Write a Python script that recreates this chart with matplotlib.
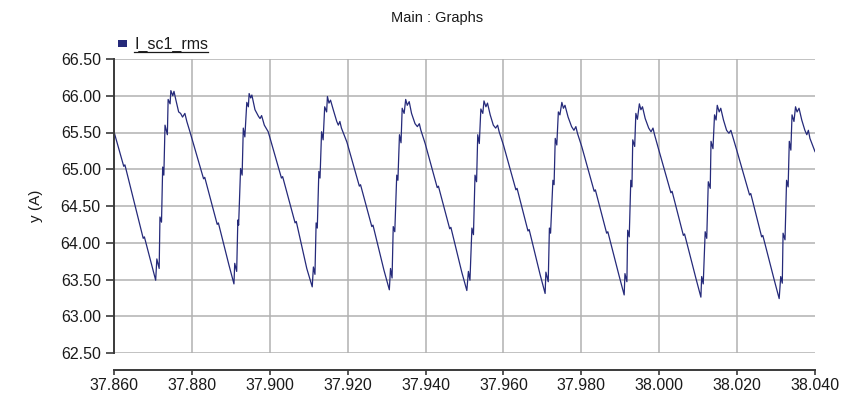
import matplotlib
matplotlib.use('Agg')
import matplotlib.pyplot as plt
import matplotlib.ticker as ticker
from matplotlib.lines import Line2D
from matplotlib.patches import Rectangle

# I_sc1_rms trace (time in s, current in A)
time_s = [
    37.8600, 37.8625, 37.8628, 37.8658, 37.8675, 37.8678, 37.8700, 37.8707,
    37.8710, 37.8716, 37.8718, 37.8722, 37.8725, 37.8728, 37.8731, 37.8737, 37.8739, 37.8744,
    37.8746, 37.8751, 37.8754, 37.8759, 37.8766, 37.8771, 37.8776, 37.8782, 37.8787, 37.8795,
    37.8830, 37.8833, 37.8865, 37.8868, 37.8895, 37.8908,
    37.8910, 37.8915, 37.8918, 37.8920, 37.8925, 37.8929, 37.8932, 37.8936, 37.8941, 37.8945,
    37.8947, 37.8951, 37.8954, 37.8962, 37.8971, 37.8975, 37.8979, 37.8986, 37.8996,
    37.9030, 37.9033, 37.9065, 37.9068, 37.9095, 37.9109,
    37.9112, 37.9116, 37.9119, 37.9122, 37.9126, 37.9129, 37.9133, 37.9137, 37.9141, 37.9146,
    37.9148, 37.9152, 37.9156, 37.9163, 37.9172, 37.9176, 37.9180, 37.9184, 37.9198,
    37.9230, 37.9233, 37.9262, 37.9265, 37.9293, 37.9307,
    37.9310, 37.9314, 37.9317, 37.9321, 37.9326, 37.9329, 37.9333, 37.9337, 37.9340, 37.9345,
    37.9349, 37.9353, 37.9358, 37.9364, 37.9373, 37.9379, 37.9384, 37.9388, 37.9399,
    37.9430, 37.9433, 37.9462, 37.9465, 37.9493, 37.9506,
    37.9510, 37.9514, 37.9519, 37.9523, 37.9527, 37.9531, 37.9534, 37.9538, 37.9542, 37.9547,
    37.9550, 37.9555, 37.9559, 37.9566, 37.9574, 37.9580, 37.9585, 37.9589, 37.9600,
    37.9632, 37.9635, 37.9663, 37.9666, 37.9694, 37.9707,
    37.9709, 37.9715, 37.9718, 37.9721, 37.9727, 37.9730, 37.9733, 37.9737, 37.9741, 37.9745,
    37.9750, 37.9754, 37.9758, 37.9766, 37.9775, 37.9781, 37.9786, 37.9790, 37.9801,
    37.9833, 37.9836, 37.9865, 37.9868, 37.9897, 37.9910,
    37.9912, 37.9917, 37.9919, 37.9923, 37.9927, 37.9930, 37.9932, 37.9937, 37.9940, 37.9944,
    37.9949, 37.9953, 37.9957, 37.9964, 37.9973, 37.9979, 37.9984, 37.9988, 37.9998,
    38.0030, 38.0033, 38.0062, 38.0065, 38.0094, 38.0107,
    38.0109, 38.0113, 38.0118, 38.0122, 38.0126, 38.0131, 38.0133, 38.0138, 38.0142, 38.0146,
    38.0149, 38.0154, 38.0158, 38.0165, 38.0173, 38.0179, 38.0184, 38.0189, 38.0199,
    38.0232, 38.0235, 38.0263, 38.0266, 38.0295, 38.0308,
    38.0312, 38.0316, 38.0318, 38.0323, 38.0327, 38.0331, 38.0334, 38.0338, 38.0341, 38.0346,
    38.0350, 38.0354, 38.0359, 38.0366, 38.0374, 38.0379, 38.0383, 38.0387, 38.0400,
]
i_sc1_rms = [
    65.51, 65.04, 65.06, 64.42, 64.06, 64.08, 63.63, 63.49,
    63.78, 63.65, 64.35, 64.28, 65.03, 64.92, 65.60, 65.47, 65.95, 65.89,
    66.07, 66.00, 66.06, 65.94, 65.78, 65.76, 65.71, 65.76, 65.65, 65.51,
    64.87, 64.89, 64.25, 64.27, 63.70, 63.44,
    63.72, 63.61, 64.31, 64.24, 65.01, 64.92, 65.56, 65.44, 65.91, 65.85,
    66.03, 65.97, 66.01, 65.81, 65.72, 65.69, 65.73, 65.60, 65.51,
    64.88, 64.90, 64.27, 64.29, 63.65, 63.40,
    63.67, 63.57, 64.27, 64.20, 64.97, 64.88, 65.51, 65.40, 65.85, 65.78,
    65.99, 65.90, 65.94, 65.81, 65.65, 65.60, 65.65, 65.56, 65.37,
    64.77, 64.79, 64.22, 64.24, 63.63, 63.36,
    63.65, 63.52, 64.22, 64.15, 64.92, 64.85, 65.47, 65.36, 65.83, 65.76,
    65.95, 65.87, 65.92, 65.76, 65.62, 65.58, 65.62, 65.53, 65.35,
    64.75, 64.77, 64.19, 64.21, 63.60, 63.35,
    63.61, 63.49, 64.20, 64.11, 64.92, 64.83, 65.47, 65.35, 65.82, 65.76,
    65.93, 65.85, 65.90, 65.74, 65.60, 65.56, 65.60, 65.51, 65.33,
    64.72, 64.74, 64.16, 64.18, 63.57, 63.31,
    63.60, 63.47, 64.20, 64.13, 64.85, 64.79, 65.42, 65.33, 65.78, 65.74,
    65.91, 65.83, 65.87, 65.71, 65.58, 65.53, 65.58, 65.49, 65.31,
    64.70, 64.72, 64.13, 64.15, 63.55, 63.29,
    63.58, 63.47, 64.17, 64.08, 64.85, 64.76, 65.40, 65.31, 65.76, 65.68,
    65.89, 65.81, 65.85, 65.69, 65.56, 65.51, 65.56, 65.47, 65.28,
    64.68, 64.70, 64.10, 64.12, 63.52, 63.26,
    63.54, 63.44, 64.15, 64.06, 64.83, 64.74, 65.38, 65.28, 65.74, 65.67,
    65.87, 65.78, 65.83, 65.67, 65.53, 65.49, 65.53, 65.44, 65.26,
    64.65, 64.67, 64.08, 64.10, 63.50, 63.24,
    63.54, 63.45, 64.13, 64.04, 64.85, 64.76, 65.38, 65.26, 65.74, 65.65,
    65.85, 65.78, 65.83, 65.67, 65.53, 65.47, 65.53, 65.42, 65.24,
]

x_ticks = [37.86, 37.88, 37.90, 37.92, 37.94, 37.96, 37.98, 38.00, 38.02, 38.04]
y_ticks = [62.5, 63.0, 63.5, 64.0, 64.5, 65.0, 65.5, 66.0, 66.5]
series_name = 'I_sc1_rms'

line_col = '#252a7a'
grid_col = '#b2b2b2'
spine_col = '#3a3a3a'

plt.rcParams['font.family'] = ['Liberation Sans', 'DejaVu Sans']

W, H = 841, 400
fig = plt.figure(figsize=(W / 100, H / 100), dpi=100)
ax = fig.add_axes([114 / W, 1 - 353 / H, (815 - 114) / W, (353 - 59) / H])

ax.plot(time_s, i_sc1_rms, color=line_col, lw=0.9, zorder=3)

ax.set_xlim(37.86, 38.04)
ax.set_ylim(62.5, 66.5)
ax.set_xticks(x_ticks)
ax.set_yticks(y_ticks)
ax.xaxis.set_major_formatter(ticker.FormatStrFormatter('%.3f'))
ax.yaxis.set_major_formatter(ticker.FormatStrFormatter('%.2f'))

# grid, no vertical line at the right edge
for y in y_ticks:
    ax.axhline(y, color=grid_col, lw=1.1, zorder=1)
for x in x_ticks[1:-1]:
    ax.axvline(x, color=grid_col, lw=1.1, zorder=1)

for s in ['top', 'right']:
    ax.spines[s].set_visible(False)
ax.spines['left'].set_color(spine_col)
ax.spines['left'].set_linewidth(1.4)
ax.spines['bottom'].set_color(spine_col)
ax.spines['bottom'].set_linewidth(1.4)
ax.spines['bottom'].set_position(('outward', 12.2))
ax.spines['left'].set_zorder(4)

ax.tick_params(axis='y', length=5.5, width=1.2, color=spine_col, pad=4, labelsize=11.5, labelcolor='#1a1a1a')
ax.tick_params(axis='x', length=3.8, width=1.2, color=spine_col, pad=2, labelsize=11.5, labelcolor='#1a1a1a')

fig.text(437 / W, 1 - 18 / H, 'Main : Graphs', ha='center', va='center', fontsize=10.5, color='#1a1a1a')
fig.text(36 / W, 1 - 206 / H, 'y (A)', ha='center', va='center', rotation=90, fontsize=11, color='#1a1a1a')

# legend entry: small square + underlined name
fig.patches.append(Rectangle((118 / W, 1 - 47 / H), 9 / W, 7 / H, transform=fig.transFigure,
                             facecolor=line_col, edgecolor='none'))
lbl = fig.text(134 / W, 1 - 49 / H, series_name, ha='left', va='baseline', fontsize=11.5, color='#1a1a1a')
fig.canvas.draw()
bb = lbl.get_window_extent(fig.canvas.get_renderer())
fig.lines.append(Line2D([bb.x0 / W, bb.x1 / W], [1 - 52 / H, 1 - 52 / H], transform=fig.transFigure,
                        color='#1a1a1a', lw=0.9))

fig.savefig('out.png', dpi=100)
